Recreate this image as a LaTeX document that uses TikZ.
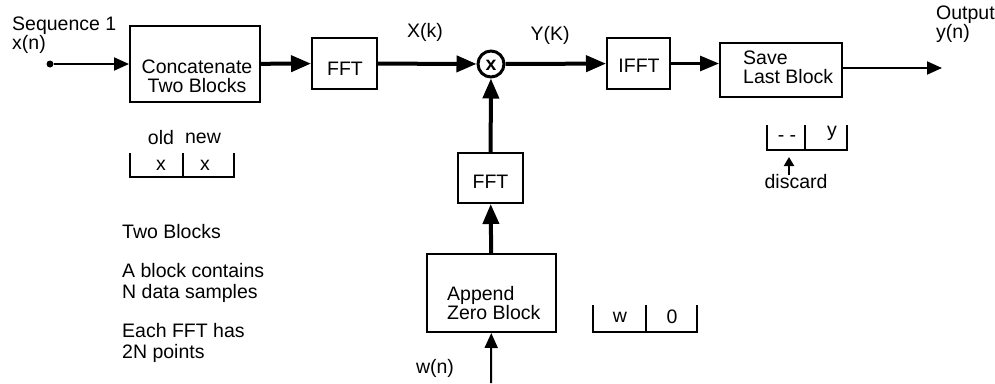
\documentclass[tikz,border=0pt]{standalone}
\usepackage{fontspec}
\setmainfont{Liberation Sans}
\usetikzlibrary{arrows.meta}
\begin{document}
\begin{tikzpicture}[x=1pt,y=-1pt,
  font=\fontsize{19.5}{19}\selectfont,
  box/.style={draw, line width=2pt, inner sep=0pt},
  txt/.style={inner sep=0pt, align=center},
  ltxt/.style={inner sep=0pt, align=left, anchor=west},
  notes/.style={ltxt, font=\fontsize{19.5}{21}\selectfont},
  thickarrow/.style={line width=4pt, -{Triangle[length=20pt,width=16pt]}},
  medarrow/.style={line width=3pt, -{Triangle[length=19pt,width=15pt]}},
  thinarrow/.style={line width=2pt, -{Triangle[length=15pt,width=13pt]}},
  smallarrow/.style={line width=2pt, -{Triangle[length=9pt,width=10pt]}},
  bracket/.style={line width=2pt}]
\useasboundingbox (0,0) rectangle (995,383);

% labels
\node[ltxt] (seqlab) at (12,35) {Sequence 1\\x(n)};
\node[ltxt] (outlab) at (936,24) {Output\\y(n)};
\node[txt] (Xk) at (425,32) {X(k)};
\node[txt] (YK) at (550,35) {Y(K)};

% blocks
\node[circle, fill, inner sep=0pt, minimum size=7pt] (indot) at (50,64) {};
\node[box, minimum width=130pt, minimum height=76pt] (concat) at (195,64) {};
\node[txt] (concatT) at (197,76) {Concatenate\\Two Blocks};
\node[box, minimum width=65pt, minimum height=51pt] (fft1) at (344.5,63.5) {};
\node[txt] (fft1T) at (345,69) {FFT};
\node[circle, draw, line width=3pt, minimum size=26pt, inner sep=0pt] (mult) at (491,64) {};
\node[txt] (multT) at (491,65) {\textbf{x}};
\node[box, minimum width=65pt, minimum height=50pt] (fft2) at (490.5,178) {};
\node[txt] (fft2T) at (490.5,182) {FFT};
\node[box, minimum width=129pt, minimum height=78pt] (append) at (491.5,293) {};
\node[ltxt] (appendT) at (447,303) {Append\\Zero Block};
\coordinate (wsrc) at (491,383);
\node[txt] (wlab) at (435,368) {w(n)};
\node[box, minimum width=63pt, minimum height=51pt] (ifft) at (638.5,63.5) {};
\node[txt] (ifftT) at (639,66) {IFFT};
\node[box, minimum width=122pt, minimum height=54pt] (save) at (781,70) {};
\node[ltxt] (saveT) at (743,67.5) {Save\\Last Block};
\coordinate (out) at (942,68);

% connectors
\draw[thinarrow] (indot) -- (concat);
\draw[thickarrow] (concat) -- (fft1);
\draw[thickarrow] (fft1) -- (mult);
\draw[thickarrow] (mult) -- (ifft);
\draw[medarrow] (ifft.east) -- (ifft.east -| save.west);
\draw[thinarrow] (save.east |- out) -- (out);
\draw[thickarrow] (fft2) -- (mult);
\draw[thickarrow] (append) -- (fft2);
\draw[thinarrow] (wsrc) -- (append);

% old/new bracket
\draw[bracket] (130,153) -- (130,177) -- (234,177) -- (234,153);
\draw[bracket] (183,153) -- (183,177);
\node[txt] (oldT) at (161,138) {old};
\node[txt] (newT) at (203,138) {new};
\node[txt] (x1) at (161,165) {x};
\node[txt] (x2) at (205,165) {x};

% w|0 bracket
\draw[bracket] (593,305) -- (593,332) -- (697,332) -- (697,305);
\draw[bracket] (646,305) -- (646,332);
\node[txt] (wT) at (620,317) {w};
\node[txt] (zT) at (672,317) {0};

% discard bracket
\draw[bracket] (767,125) -- (767,150) -- (847,150) -- (847,125);
\draw[bracket] (805,125) -- (805,150);
\node[txt] (dashT) at (787,139) {- -};
\node[txt] (yT) at (832,133) {y};
\node[txt] (discT) at (796,182) {discard};
\coordinate (discTop) at (789,157);
\draw[smallarrow] (discT.north -| discTop) -- (discTop);

% notes
\node[notes] (n1) at (122,232) {Two Blocks};
\node[notes] (n2) at (122,282.5) {A block contains\\N data samples};
\node[notes] (n3) at (122,343) {Each FFT has\\2N points};
\end{tikzpicture}
\end{document}
